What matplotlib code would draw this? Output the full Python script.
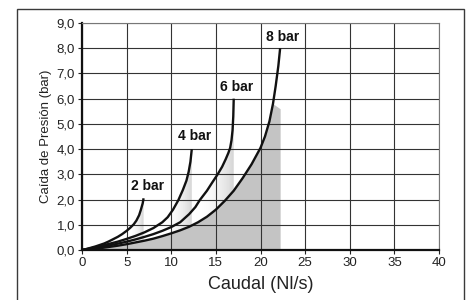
import numpy as np
from matplotlib import pyplot as plt
from matplotlib.colors import LinearSegmentedColormap
from matplotlib.patches import Rectangle

plt.rcParams['font.family'] = ['Liberation Sans', 'DejaVu Sans']

# curvas (caudal Nl/s, caída de presión bar)
x2 = [0, 0.5, 1, 1.5, 2, 2.5, 3, 3.5, 4, 4.5, 5, 5.4, 5.8, 6.1, 6.4, 6.6, 6.8, 6.9]
y2 = [0, 0.04, 0.09, 0.14, 0.2, 0.26, 0.34, 0.43, 0.52, 0.63, 0.76, 0.88, 1.02,
      1.17, 1.38, 1.6, 1.85, 2.05]

x4 = [0, 1, 2, 3, 4, 5, 6, 7, 8, 9, 9.6, 10.2, 10.8, 11.3, 11.7, 11.95, 12.15, 12.3]
y4 = [0, 0.07, 0.15, 0.24, 0.33, 0.44, 0.56, 0.7, 0.87, 1.1, 1.3, 1.6, 1.98,
      2.38, 2.75, 3.1, 3.5, 4.0]

x6 = [0, 1, 2, 3, 4, 5, 6, 7, 8, 9, 10, 11, 12, 12.7, 13.2, 14, 14.6, 15.2,
      15.7, 16.1, 16.4, 16.6, 16.75, 16.87, 16.95, 17.0]
y6 = [0, 0.05, 0.11, 0.18, 0.25, 0.33, 0.42, 0.52, 0.63, 0.76, 0.91, 1.1, 1.42,
      1.7, 1.98, 2.35, 2.68, 3.0, 3.3, 3.6, 3.85, 4.05, 4.35, 4.75, 5.3, 6.0]

x8 = [0, 1, 2, 3, 4, 5, 6, 7, 8, 9, 10, 11, 12, 13, 14, 15, 16, 17, 18, 19,
      20, 20.5, 21, 21.4, 21.7, 22.0, 22.2]
y8 = [0, 0.03, 0.07, 0.12, 0.17, 0.23, 0.3, 0.37, 0.45, 0.55, 0.66, 0.78, 0.92,
      1.1, 1.32, 1.6, 1.95, 2.35, 2.85, 3.4, 4.05, 4.5, 5.1, 5.8, 6.5, 7.3, 8.0]

# contorno del sombreado oscuro (se corta por arriba en el extremo)
x8_sombra = [0, 3, 5, 8, 10, 12, 14, 16, 18, 20, 21, 21.4, 22.2]
y8_sombra = [0, 0.12, 0.23, 0.45, 0.66, 0.92, 1.32, 1.95, 2.85, 4.05, 5.1, 5.8, 5.6]

curvas = [(x2, y2, '2 bar'), (x4, y4, '4 bar'), (x6, y6, '6 bar'), (x8, y8, '8 bar')]
etiquetas_x = [7.4, 12.6, 17.3, 22.5]
etiquetas_y = [2.55, 4.5, 6.45, 8.45]

fig = plt.figure(figsize=(4.68, 3.0), dpi=100)
fig.patches.append(Rectangle((17 / 468, -0.01), 447 / 468, 1 - 9 / 300 + 0.01,
                             transform=fig.transFigure, fill=False,
                             edgecolor='#3a3a3a', lw=1.0))

ax = fig.add_axes([82 / 468, 50 / 300, 357 / 468, 227 / 300])

# sombreado gris claro con degradado bajo las curvas de 2, 4 y 6 bar
cmap = LinearSegmentedColormap.from_list('g', [(1, 1, 1, 0), (0.84, 0.84, 0.84, 1)])
grad = np.linspace(0, 1, 256)[None, :]
for xs, ys, _ in curvas[:3]:
    poly = ax.fill_between(xs, ys, color='none', lw=0)
    x1 = xs[-1]
    im = ax.imshow(grad, extent=[x1 * 0.75, x1, 0, ys[-1]], cmap=cmap,
                   aspect='auto', zorder=0.2, interpolation='bilinear')
    im.set_clip_path(poly.get_paths()[0], transform=ax.transData)

# sombreado gris oscuro bajo la curva de 8 bar
ax.fill_between(x8_sombra, 0, y8_sombra, color='#c4c4c4', lw=0, zorder=0.3)

for (xs, ys, nombre), tx, ty in zip(curvas, etiquetas_x, etiquetas_y):
    ax.plot(xs, ys, color='#111111', lw=1.7, zorder=3, solid_capstyle='butt')
    ax.text(tx, ty, nombre, ha='center', va='center', fontsize=10,
            fontweight='bold', color='#111111', zorder=4)

ax.set_xlim(0, 40)
ax.set_ylim(0, 9)
ax.set_xticks(range(0, 41, 5))
ax.set_yticks(range(0, 10))
ax.set_yticklabels([f'{v},0' for v in range(0, 10)])
ax.set_axisbelow(True)
ax.grid(True, color='#333333', lw=0.8)

for s in ['top', 'right']:
    ax.spines[s].set_color('#777777')
    ax.spines[s].set_linewidth(0.8)
for s in ['left', 'bottom']:
    ax.spines[s].set_color('#111111')
    ax.spines[s].set_linewidth(1.6)
ax.tick_params(length=3, width=0.8, labelsize=9.5, pad=2, colors='#222222')

ax.set_xlabel('Caudal (Nl/s)', fontsize=13, labelpad=5, color='#222222')
ax.set_ylabel('Caída de Presión (bar)', fontsize=9.5, labelpad=3, color='#222222')

fig.savefig('out.png', dpi=100)
